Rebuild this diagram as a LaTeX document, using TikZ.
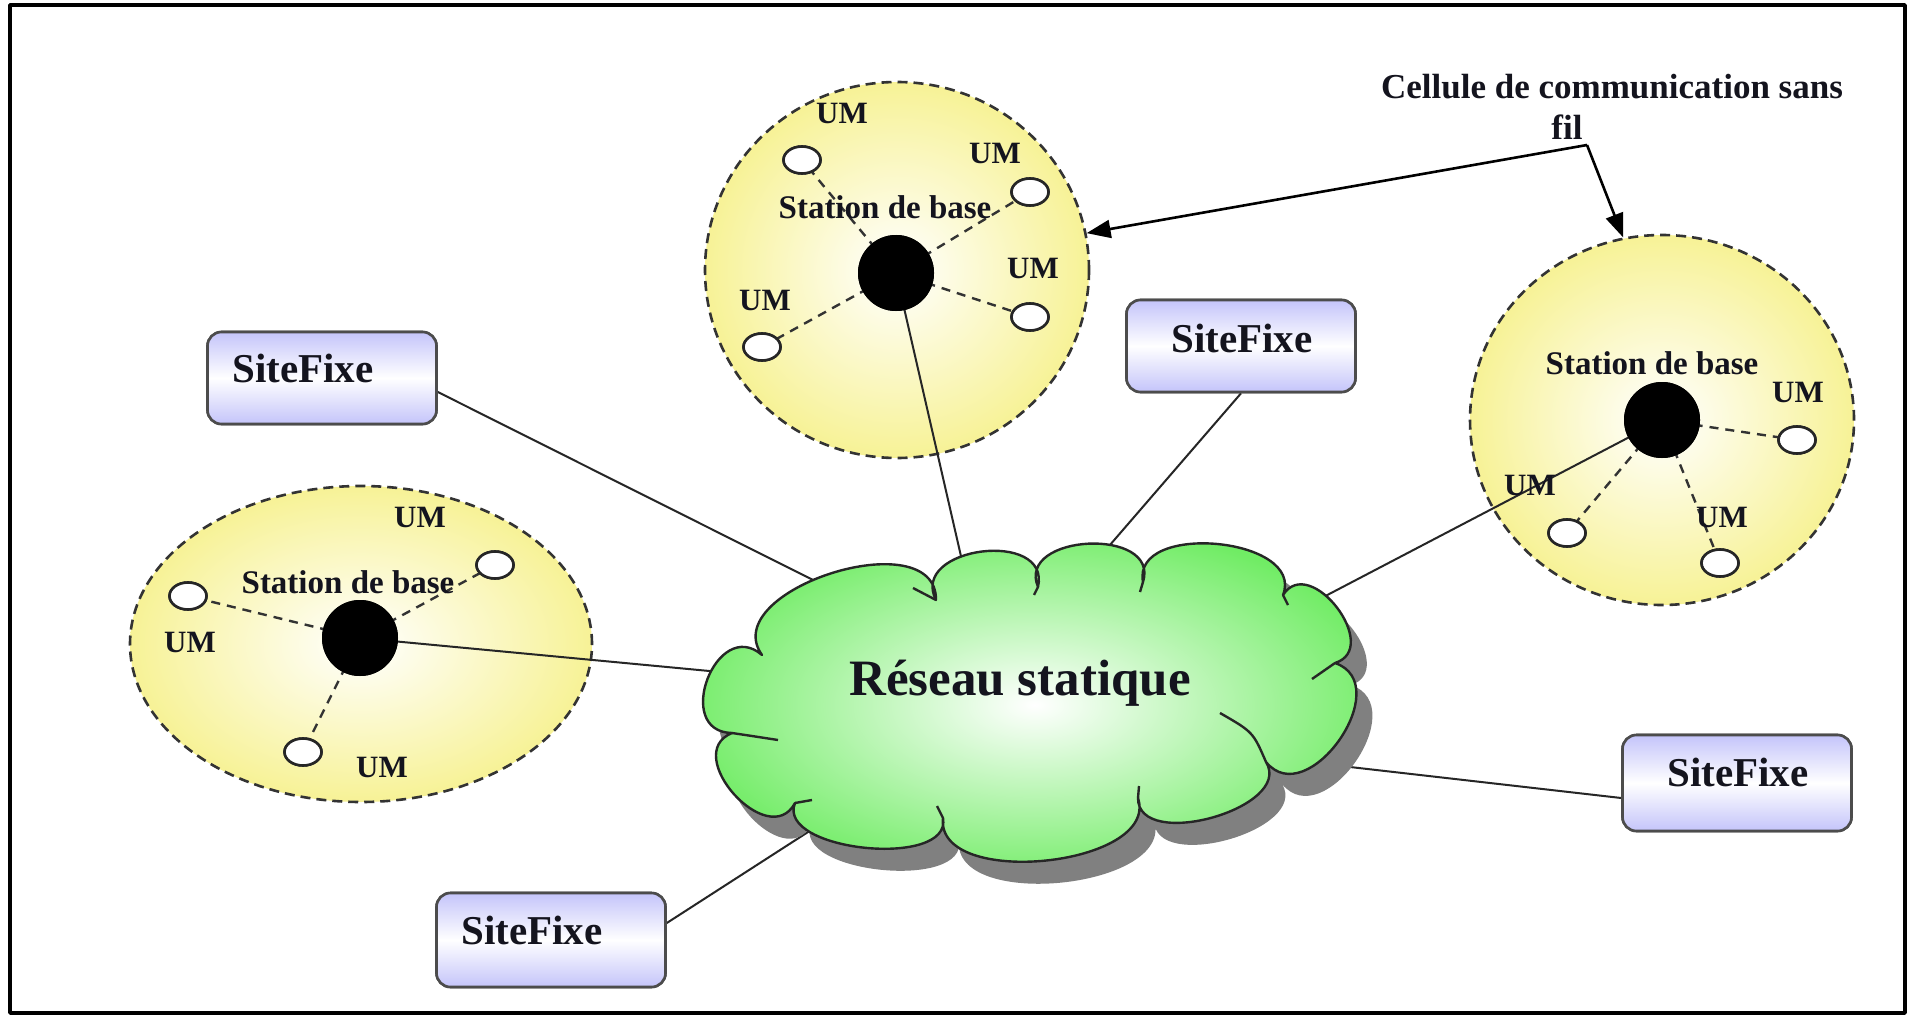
\documentclass[tikz,border=0pt]{standalone}
\usepackage{fontspec}
\setmainfont{Liberation Serif}
\usetikzlibrary{calc,shapes.geometric,arrows.meta}

\definecolor{cellyellow}{RGB}{247,242,150}
\definecolor{cloudgreen}{RGB}{112,236,100}
\definecolor{boxblue}{RGB}{196,196,250}
\definecolor{inkcol}{RGB}{20,20,30}

\newcommand\cloudpath{(762,655)
 .. controls ($(762,655)!80pt!108:(936,600)$) and ($(936,600)!80pt!-108:(762,655)$) .. (936,600)
 .. controls ($(936,600)!60pt!110:(1038,587)$) and ($(1038,587)!60pt!-110:(936,600)$) .. (1038,587)
 .. controls ($(1038,587)!58pt!110:(1143,582)$) and ($(1143,582)!58pt!-110:(1038,587)$) .. (1143,582)
 .. controls ($(1143,582)!62pt!106:(1283,595)$) and ($(1283,595)!62pt!-106:(1143,582)$) .. (1283,595)
 .. controls ($(1283,595)!50pt!110:(1335,663)$) and ($(1335,663)!50pt!-110:(1283,595)$) .. (1335,663)
 .. controls ($(1335,663)!66pt!106:(1266,762)$) and ($(1266,762)!66pt!-106:(1335,663)$) .. (1266,762)
 .. controls ($(1266,762)!54pt!106:(1138,798)$) and ($(1138,798)!54pt!-106:(1266,762)$) .. (1138,798)
 .. controls ($(1138,798)!72pt!102:(943,818)$) and ($(943,818)!72pt!-102:(1138,798)$) .. (943,818)
 .. controls ($(943,818)!52pt!106:(795,803)$) and ($(795,803)!52pt!-106:(943,818)$) .. (795,803)
 .. controls ($(795,803)!56pt!110:(732,733)$) and ($(732,733)!56pt!-110:(795,803)$) .. (732,733)
 .. controls ($(732,733)!60pt!110:(762,655)$) and ($(762,655)!60pt!-110:(732,733)$) .. (762,655)
 -- cycle}

\begin{document}
\begin{tikzpicture}[x=1pt,y=-1pt,line join=round,
  cell/.style={ellipse, draw=black!80, dash pattern=on 10pt off 6pt, line width=2.6pt,
    shading=radial, inner color=white, outer color=cellyellow, inner sep=0},
  um/.style={ellipse, draw=black!85, fill=white, line width=2.6pt,
    minimum width=37pt, minimum height=27pt, inner sep=0},
  bs/.style={circle, fill=black, minimum size=76pt, inner sep=0},
  sitebox/.style={rectangle, rounded corners=14pt, draw=black!70, line width=2.6pt,
    top color=boxblue, bottom color=boxblue, middle color=white,
    minimum width=229pt, minimum height=92pt, inner sep=0},
  link/.style={draw=black!85, line width=2pt},
  radio/.style={draw=black!80, dash pattern=on 9pt off 7pt, line width=2.4pt},
  arr/.style={draw=black, line width=2.6pt, -{Triangle[length=24pt,width=18pt]}},
  sftxt/.style={font=\fontsize{41}{45}\selectfont\bfseries, text=inkcol, inner sep=0},
  umtxt/.style={font=\fontsize{31}{34}\selectfont\bfseries, text=inkcol, inner sep=0},
  sttxt/.style={font=\fontsize{33}{36}\selectfont\bfseries, text=inkcol, inner sep=0},
  captxt/.style={font=\fontsize{35}{38}\selectfont\bfseries, text=inkcol, inner sep=0},
  nettxt/.style={font=\fontsize{51}{55}\selectfont\bfseries, text=inkcol, inner sep=0},
  cloudfill/.style={draw=black!85, line width=2.4pt, shading=radial, inner color=white, outer color=cloudgreen},
  stub/.style={draw=black!85, line width=2.4pt}
]
\useasboundingbox (0,0) rectangle (1910,1016);
\fill[white] (0,0) rectangle (1910,1016);
% frame
\draw[line width=3.5pt] (10,5) rectangle (1905,1013);

% cells
\node[cell, minimum width=384pt, minimum height=376pt] (tc) at (897,270) {};
\node[cell, minimum width=384pt, minimum height=370pt] (rc) at (1662,420) {};
\node[cell, minimum width=462pt, minimum height=316pt] (lc) at (361,644) {};

% base stations & mobile units (positions)
\node[bs] (tbs) at (896,273) {};
\node[bs] (rbs) at (1662,420) {};
\node[bs] (lbs) at (360,638) {};

\node[um] (tu1) at (802,160) {};
\node[um] (tu2) at (1030,192) {};
\node[um] (tu3) at (1030,317) {};
\node[um] (tu4) at (762,347) {};
\node[um] (ru1) at (1797,440) {};
\node[um] (ru2) at (1567,533) {};
\node[um] (ru3) at (1720,563) {};
\node[um] (lu1) at (495,565) {};
\node[um] (lu2) at (188,596) {};
\node[um] (lu3) at (303,752) {};

% radio links
\foreach \u in {tu1,tu2,tu3,tu4} \draw[radio] (tbs.center) -- (\u.center);
\foreach \u in {ru1,ru2,ru3} \draw[radio] (rbs.center) -- (\u.center);
\foreach \u in {lu1,lu2,lu3} \draw[radio] (lbs.center) -- (\u.center);

% boxes
\node[sitebox] (sf1) at (322,378) {};
\node[sitebox] (sf2) at (1241,346) {};
\node[sitebox, minimum height=94pt] (sf3) at (551,940) {};
\node[sitebox, minimum height=96pt] (sf4) at (1737,783) {};

% anchor points on the cloud
\coordinate (k1) at (825,586);
\coordinate (k2) at (963,565);
\coordinate (k3) at (1103,553);
\coordinate (k4) at (1312,603);
\coordinate (k5) at (720,672);
\coordinate (k6) at (822,823);
\coordinate (k7) at (1350,767);

% wired links
\draw[link] ($(sf1.east)+(0,14)$) -- (k1);
\draw[link] (tbs.center) -- (k2);
\draw[link] (sf2.south) -- (k3);
\draw[link] (rbs.center) -- (k4);
\draw[link] (lbs.center) -- (k5);
\draw[link] ($(sf3.east)+(0,-17)$) -- (k6);
\draw[link] ($(sf4.west)+(0,15)$) -- (k7);

% cloud
\begin{scope}[shift={(16,22)}]
  \fill[black!50] \cloudpath;
\end{scope}
\path[cloudfill] \cloudpath;
\draw[stub] (732,733) .. controls (752,736) .. (778,740);
\draw[stub] (795,803) -- (812,800);
\draw[stub] (943,818) -- (937,806);
\draw[stub] (1138,798) -- (1139,786);
\draw[stub] (1266,762) .. controls (1253,732) .. (1220,713);
\draw[stub] (1335,663) -- (1312,679);
\draw[stub] (1283,595) -- (1288,605);
\draw[stub] (1143,582) -- (1140,592);
\draw[stub] (1038,587) -- (1034,595);
\draw[stub] (936,600) -- (913,588);
\node[nettxt] (net) at (1020,683) {Réseau statique};

% redraw nodes on top
\node[bs] at (tbs) {};
\node[bs] at (rbs) {};
\node[bs] at (lbs) {};
\foreach \u in {tu1,tu2,tu3,tu4,ru1,ru2,ru3,lu1,lu2,lu3} \node[um] at (\u) {};
\node[sitebox] at (sf1) {};
\node[sitebox] at (sf2) {};
\node[sitebox, minimum height=94pt] at (sf3) {};
\node[sitebox, minimum height=96pt] at (sf4) {};

% labels
\node[sttxt] (tst) at (885,207) {Station de base};
\node[sttxt] (rst) at (1652,363) {Station de base};
\node[sttxt] (lst) at (348,582) {Station de base};

\node[umtxt] (tl1) at (842,113) {UM};
\node[umtxt] (tl2) at (995,153) {UM};
\node[umtxt] (tl3) at (1033,268) {UM};
\node[umtxt] (tl4) at (765,300) {UM};
\node[umtxt] (rl1) at (1798,392) {UM};
\node[umtxt] (rl2) at (1530,485) {UM};
\node[umtxt] (rl3) at (1722,517) {UM};
\node[umtxt] (ll1) at (420,517) {UM};
\node[umtxt] (ll2) at (190,642) {UM};
\node[umtxt] (ll3) at (382,767) {UM};

\node[sftxt] (t1) at (303,368) {SiteFixe};
\node[sftxt] (t2) at (1242,338) {SiteFixe};
\node[sftxt] (t3) at (532,930) {SiteFixe};
\node[sftxt] (t4) at (1738,772) {SiteFixe};

% caption and arrows
\node[captxt] (cap1) at (1612,87) {Cellule de communication sans};
\node[captxt] (cap2) at (1567,127) {fil};
\coordinate (J) at (1587,145);
\draw[arr] (J) -- (tc.11);
\draw[arr] (J) -- (rc.102);
\end{tikzpicture}
\end{document}
